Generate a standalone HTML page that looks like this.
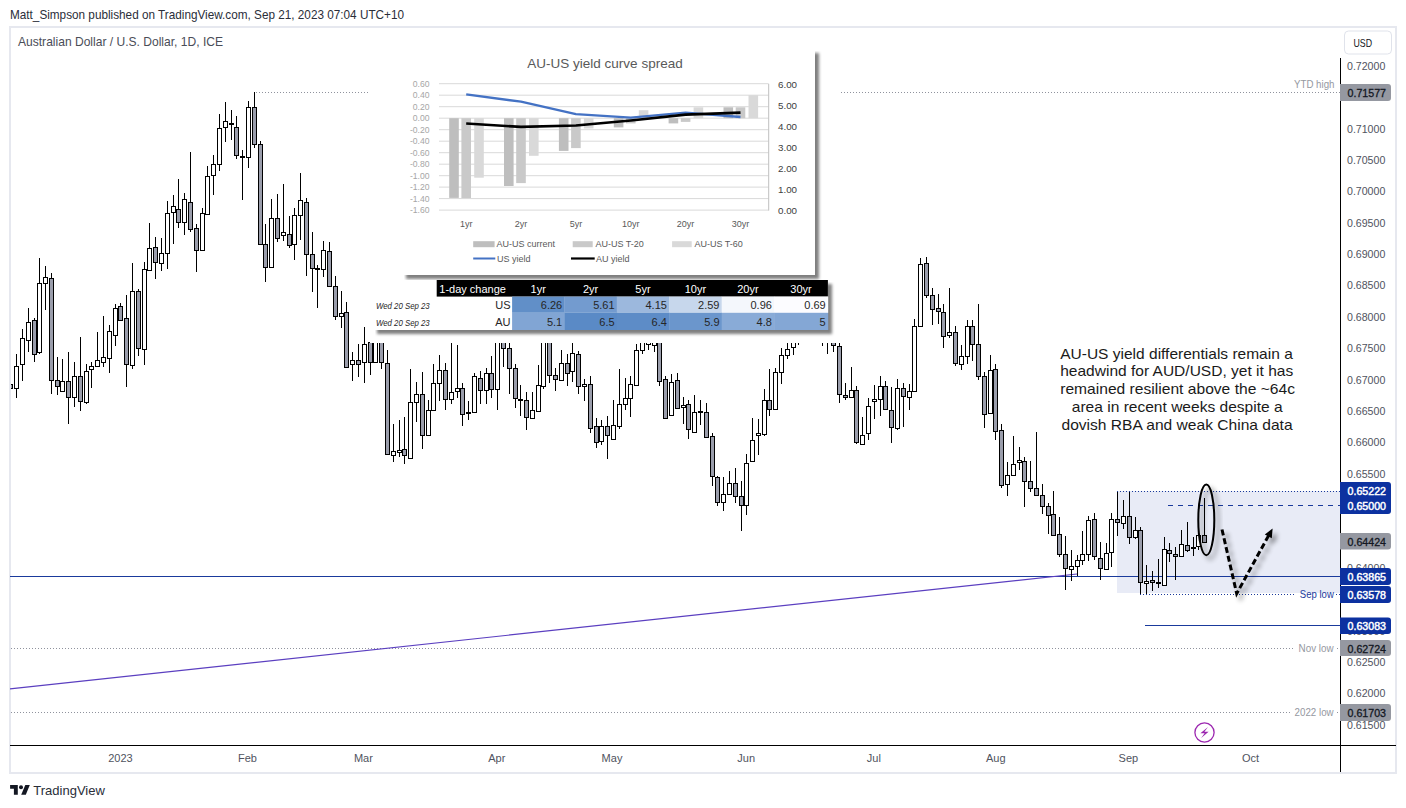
<!DOCTYPE html>
<html><head><meta charset="utf-8"><title>AUDUSD chart</title>
<style>
html,body{margin:0;padding:0;background:#fff;width:1406px;height:808px;overflow:hidden;}
svg{position:absolute;left:0;top:0;display:block;}
text{font-family:"Liberation Sans", sans-serif;}
</style></head><body>
<svg width="1406" height="808" viewBox="0 0 1406 808">
<defs>
<filter id="blur" x="-10%" y="-10%" width="120%" height="120%"><feGaussianBlur stdDeviation="1.8"/></filter>
<filter id="sh" x="-10%" y="-10%" width="130%" height="130%"><feGaussianBlur in="SourceAlpha" stdDeviation="1.9"/><feOffset dx="4" dy="3.5"/><feComponentTransfer><feFuncA type="linear" slope="0.62"/></feComponentTransfer><feMerge><feMergeNode/><feMergeNode in="SourceGraphic"/></feMerge></filter>
<filter id="sh2" x="-50%" y="-20%" width="200%" height="140%"><feGaussianBlur in="SourceAlpha" stdDeviation="2.6"/><feOffset dx="4" dy="4"/><feComponentTransfer><feFuncA type="linear" slope="0.45"/></feComponentTransfer><feMerge><feMergeNode/><feMergeNode in="SourceGraphic"/></feMerge></filter>
</defs>
<rect x="0" y="0" width="1406" height="808" fill="#fff"/>

<text x="10" y="18.8" font-size="12.2" fill="#2a2e39" textLength="394" lengthAdjust="spacingAndGlyphs">Matt_Simpson published on TradingView.com, Sep 21, 2023 07:04 UTC+10</text>
<rect x="10" y="27" width="1386" height="746" fill="none" stroke="#e6e8ef" stroke-width="2"/>
<text x="18" y="46" font-size="12.2" fill="#4a4d57" textLength="205" lengthAdjust="spacingAndGlyphs">Australian Dollar / U.S. Dollar, 1D, ICE</text>
<rect x="1117" y="491" width="223" height="102" fill="#e8ebf6"/>
<g stroke="#8f929d" stroke-width="1" stroke-dasharray="1 2" shape-rendering="crispEdges">
<line x1="256" y1="92.5" x2="1340" y2="92.5"/>
<line x1="11" y1="648.5" x2="1295" y2="648.5"/>
<line x1="1337" y1="648.5" x2="1340" y2="648.5"/>
<line x1="11" y1="712.5" x2="1290" y2="712.5"/>
<line x1="1337" y1="712.5" x2="1340" y2="712.5"/>
</g>
<g stroke="#1a3a9c" stroke-width="1" shape-rendering="crispEdges">
<line x1="10" y1="576.5" x2="1340" y2="576.5"/>
<line x1="1145" y1="625.5" x2="1340" y2="625.5"/>
</g>
<line x1="10" y1="688.8" x2="1077" y2="574" stroke="#5b3fc0" stroke-width="1.2"/>
<clipPath id="pane"><rect x="11" y="28" width="1329" height="717"/></clipPath>
<g shape-rendering="crispEdges" clip-path="url(#pane)">
<rect x="10" y="352" width="1" height="40" fill="#000"/>
<rect x="8" y="384" width="5" height="5" fill="#000"/>
<rect x="9" y="385" width="3" height="3" fill="#9a9dab"/>
<rect x="16" y="354" width="1" height="44" fill="#000"/>
<rect x="14" y="366" width="5" height="23" fill="#000"/>
<rect x="15" y="367" width="3" height="21" fill="#fff"/>
<rect x="22" y="329" width="1" height="52" fill="#000"/>
<rect x="20" y="338" width="5" height="27" fill="#000"/>
<rect x="21" y="339" width="3" height="25" fill="#fff"/>
<rect x="28" y="308" width="1" height="44" fill="#000"/>
<rect x="26" y="322" width="5" height="19" fill="#000"/>
<rect x="27" y="323" width="3" height="17" fill="#fff"/>
<rect x="34" y="318" width="1" height="44" fill="#000"/>
<rect x="32" y="320" width="5" height="35" fill="#000"/>
<rect x="33" y="321" width="3" height="33" fill="#9a9dab"/>
<rect x="39" y="258" width="1" height="96" fill="#000"/>
<rect x="37" y="283" width="5" height="70" fill="#000"/>
<rect x="38" y="284" width="3" height="68" fill="#fff"/>
<rect x="45" y="266" width="1" height="44" fill="#000"/>
<rect x="43" y="277" width="5" height="7" fill="#000"/>
<rect x="44" y="278" width="3" height="5" fill="#fff"/>
<rect x="51" y="273" width="1" height="121" fill="#000"/>
<rect x="49" y="278" width="5" height="103" fill="#000"/>
<rect x="50" y="279" width="3" height="101" fill="#9a9dab"/>
<rect x="57" y="357" width="1" height="38" fill="#000"/>
<rect x="55" y="380" width="5" height="7" fill="#000"/>
<rect x="56" y="381" width="3" height="5" fill="#9a9dab"/>
<rect x="62" y="359" width="1" height="32" fill="#000"/>
<rect x="60" y="381" width="5" height="11" fill="#000"/>
<rect x="61" y="382" width="3" height="9" fill="#fff"/>
<rect x="68" y="352" width="1" height="72" fill="#000"/>
<rect x="66" y="381" width="5" height="17" fill="#000"/>
<rect x="67" y="382" width="3" height="15" fill="#9a9dab"/>
<rect x="74" y="362" width="1" height="45" fill="#000"/>
<rect x="72" y="376" width="5" height="22" fill="#000"/>
<rect x="73" y="377" width="3" height="20" fill="#fff"/>
<rect x="80" y="337" width="1" height="74" fill="#000"/>
<rect x="78" y="376" width="5" height="26" fill="#000"/>
<rect x="79" y="377" width="3" height="24" fill="#9a9dab"/>
<rect x="86" y="364" width="1" height="40" fill="#000"/>
<rect x="84" y="371" width="5" height="32" fill="#000"/>
<rect x="85" y="372" width="3" height="30" fill="#fff"/>
<rect x="91" y="362" width="1" height="26" fill="#000"/>
<rect x="89" y="366" width="5" height="4" fill="#000"/>
<rect x="90" y="367" width="3" height="2" fill="#fff"/>
<rect x="97" y="332" width="1" height="35" fill="#000"/>
<rect x="95" y="360" width="5" height="7" fill="#000"/>
<rect x="96" y="361" width="3" height="5" fill="#fff"/>
<rect x="103" y="316" width="1" height="51" fill="#000"/>
<rect x="101" y="357" width="5" height="6" fill="#000"/>
<rect x="102" y="358" width="3" height="4" fill="#fff"/>
<rect x="109" y="325" width="1" height="48" fill="#000"/>
<rect x="107" y="331" width="5" height="28" fill="#000"/>
<rect x="108" y="332" width="3" height="26" fill="#fff"/>
<rect x="115" y="304" width="1" height="42" fill="#000"/>
<rect x="113" y="308" width="5" height="28" fill="#000"/>
<rect x="114" y="309" width="3" height="26" fill="#fff"/>
<rect x="120" y="303" width="1" height="18" fill="#000"/>
<rect x="118" y="306" width="5" height="15" fill="#000"/>
<rect x="119" y="307" width="3" height="13" fill="#9a9dab"/>
<rect x="126" y="295" width="1" height="92" fill="#000"/>
<rect x="124" y="318" width="5" height="47" fill="#000"/>
<rect x="125" y="319" width="3" height="45" fill="#9a9dab"/>
<rect x="132" y="263" width="1" height="106" fill="#000"/>
<rect x="130" y="291" width="5" height="75" fill="#000"/>
<rect x="131" y="292" width="3" height="73" fill="#fff"/>
<rect x="138" y="289" width="1" height="67" fill="#000"/>
<rect x="136" y="291" width="5" height="58" fill="#000"/>
<rect x="137" y="292" width="3" height="56" fill="#9a9dab"/>
<rect x="144" y="262" width="1" height="103" fill="#000"/>
<rect x="142" y="269" width="5" height="81" fill="#000"/>
<rect x="143" y="270" width="3" height="79" fill="#fff"/>
<rect x="149" y="223" width="1" height="47" fill="#000"/>
<rect x="147" y="248" width="5" height="23" fill="#000"/>
<rect x="148" y="249" width="3" height="21" fill="#fff"/>
<rect x="155" y="237" width="1" height="42" fill="#000"/>
<rect x="153" y="247" width="5" height="16" fill="#000"/>
<rect x="154" y="248" width="3" height="14" fill="#9a9dab"/>
<rect x="161" y="238" width="1" height="33" fill="#000"/>
<rect x="159" y="253" width="5" height="11" fill="#000"/>
<rect x="160" y="254" width="3" height="9" fill="#fff"/>
<rect x="167" y="201" width="1" height="68" fill="#000"/>
<rect x="165" y="213" width="5" height="41" fill="#000"/>
<rect x="166" y="214" width="3" height="39" fill="#fff"/>
<rect x="173" y="195" width="1" height="49" fill="#000"/>
<rect x="171" y="206" width="5" height="7" fill="#000"/>
<rect x="172" y="207" width="3" height="5" fill="#fff"/>
<rect x="178" y="179" width="1" height="49" fill="#000"/>
<rect x="176" y="209" width="5" height="14" fill="#000"/>
<rect x="177" y="210" width="3" height="12" fill="#9a9dab"/>
<rect x="184" y="193" width="1" height="42" fill="#000"/>
<rect x="182" y="199" width="5" height="24" fill="#000"/>
<rect x="183" y="200" width="3" height="22" fill="#fff"/>
<rect x="190" y="152" width="1" height="80" fill="#000"/>
<rect x="188" y="202" width="5" height="28" fill="#000"/>
<rect x="189" y="203" width="3" height="26" fill="#9a9dab"/>
<rect x="196" y="224" width="1" height="48" fill="#000"/>
<rect x="194" y="228" width="5" height="23" fill="#000"/>
<rect x="195" y="229" width="3" height="21" fill="#9a9dab"/>
<rect x="202" y="208" width="1" height="42" fill="#000"/>
<rect x="200" y="213" width="5" height="38" fill="#000"/>
<rect x="201" y="214" width="3" height="36" fill="#fff"/>
<rect x="207" y="166" width="1" height="48" fill="#000"/>
<rect x="205" y="176" width="5" height="39" fill="#000"/>
<rect x="206" y="177" width="3" height="37" fill="#fff"/>
<rect x="213" y="155" width="1" height="40" fill="#000"/>
<rect x="211" y="164" width="5" height="12" fill="#000"/>
<rect x="212" y="165" width="3" height="10" fill="#fff"/>
<rect x="219" y="114" width="1" height="57" fill="#000"/>
<rect x="217" y="128" width="5" height="37" fill="#000"/>
<rect x="218" y="129" width="3" height="35" fill="#fff"/>
<rect x="225" y="102" width="1" height="40" fill="#000"/>
<rect x="223" y="121" width="5" height="7" fill="#000"/>
<rect x="224" y="122" width="3" height="5" fill="#fff"/>
<rect x="231" y="110" width="1" height="30" fill="#000"/>
<rect x="229" y="123" width="5" height="2" fill="#000"/>
<rect x="236" y="116" width="1" height="43" fill="#000"/>
<rect x="234" y="127" width="5" height="29" fill="#000"/>
<rect x="235" y="128" width="3" height="27" fill="#9a9dab"/>
<rect x="242" y="150" width="1" height="50" fill="#000"/>
<rect x="240" y="156" width="5" height="2" fill="#000"/>
<rect x="248" y="101" width="1" height="67" fill="#000"/>
<rect x="246" y="107" width="5" height="51" fill="#000"/>
<rect x="247" y="108" width="3" height="49" fill="#fff"/>
<rect x="254" y="92" width="1" height="56" fill="#000"/>
<rect x="252" y="107" width="5" height="38" fill="#000"/>
<rect x="253" y="108" width="3" height="36" fill="#9a9dab"/>
<rect x="260" y="141" width="1" height="103" fill="#000"/>
<rect x="258" y="144" width="5" height="101" fill="#000"/>
<rect x="259" y="145" width="3" height="99" fill="#9a9dab"/>
<rect x="265" y="224" width="1" height="58" fill="#000"/>
<rect x="263" y="244" width="5" height="24" fill="#000"/>
<rect x="264" y="245" width="3" height="22" fill="#9a9dab"/>
<rect x="271" y="199" width="1" height="68" fill="#000"/>
<rect x="269" y="218" width="5" height="50" fill="#000"/>
<rect x="270" y="219" width="3" height="48" fill="#fff"/>
<rect x="277" y="194" width="1" height="48" fill="#000"/>
<rect x="275" y="218" width="5" height="21" fill="#000"/>
<rect x="276" y="219" width="3" height="19" fill="#9a9dab"/>
<rect x="283" y="184" width="1" height="57" fill="#000"/>
<rect x="281" y="232" width="5" height="4" fill="#000"/>
<rect x="282" y="233" width="3" height="2" fill="#fff"/>
<rect x="289" y="216" width="1" height="32" fill="#000"/>
<rect x="287" y="234" width="5" height="12" fill="#000"/>
<rect x="288" y="235" width="3" height="10" fill="#9a9dab"/>
<rect x="294" y="208" width="1" height="52" fill="#000"/>
<rect x="292" y="215" width="5" height="30" fill="#000"/>
<rect x="293" y="216" width="3" height="28" fill="#fff"/>
<rect x="300" y="173" width="1" height="67" fill="#000"/>
<rect x="298" y="200" width="5" height="16" fill="#000"/>
<rect x="299" y="201" width="3" height="14" fill="#fff"/>
<rect x="306" y="198" width="1" height="78" fill="#000"/>
<rect x="304" y="202" width="5" height="53" fill="#000"/>
<rect x="305" y="203" width="3" height="51" fill="#9a9dab"/>
<rect x="312" y="232" width="1" height="60" fill="#000"/>
<rect x="310" y="254" width="5" height="15" fill="#000"/>
<rect x="311" y="255" width="3" height="13" fill="#9a9dab"/>
<rect x="317" y="265" width="1" height="43" fill="#000"/>
<rect x="315" y="268" width="5" height="2" fill="#000"/>
<rect x="323" y="241" width="1" height="36" fill="#000"/>
<rect x="321" y="250" width="5" height="20" fill="#000"/>
<rect x="322" y="251" width="3" height="18" fill="#fff"/>
<rect x="329" y="242" width="1" height="44" fill="#000"/>
<rect x="327" y="251" width="5" height="36" fill="#000"/>
<rect x="328" y="252" width="3" height="34" fill="#9a9dab"/>
<rect x="335" y="276" width="1" height="44" fill="#000"/>
<rect x="333" y="286" width="5" height="31" fill="#000"/>
<rect x="334" y="287" width="3" height="29" fill="#9a9dab"/>
<rect x="341" y="291" width="1" height="37" fill="#000"/>
<rect x="339" y="313" width="5" height="4" fill="#000"/>
<rect x="340" y="314" width="3" height="2" fill="#fff"/>
<rect x="346" y="302" width="1" height="66" fill="#000"/>
<rect x="344" y="312" width="5" height="56" fill="#000"/>
<rect x="345" y="313" width="3" height="54" fill="#9a9dab"/>
<rect x="352" y="352" width="1" height="29" fill="#000"/>
<rect x="350" y="360" width="5" height="5" fill="#000"/>
<rect x="351" y="361" width="3" height="3" fill="#fff"/>
<rect x="358" y="344" width="1" height="33" fill="#000"/>
<rect x="356" y="360" width="5" height="5" fill="#000"/>
<rect x="357" y="361" width="3" height="3" fill="#9a9dab"/>
<rect x="364" y="327" width="1" height="56" fill="#000"/>
<rect x="362" y="344" width="5" height="19" fill="#000"/>
<rect x="363" y="345" width="3" height="17" fill="#fff"/>
<rect x="370" y="338" width="1" height="37" fill="#000"/>
<rect x="368" y="342" width="5" height="21" fill="#000"/>
<rect x="369" y="343" width="3" height="19" fill="#9a9dab"/>
<rect x="375" y="330" width="1" height="33" fill="#000"/>
<rect x="373" y="335" width="5" height="28" fill="#000"/>
<rect x="374" y="336" width="3" height="26" fill="#fff"/>
<rect x="381" y="330" width="1" height="39" fill="#000"/>
<rect x="379" y="335" width="5" height="28" fill="#000"/>
<rect x="380" y="336" width="3" height="26" fill="#9a9dab"/>
<rect x="387" y="350" width="1" height="105" fill="#000"/>
<rect x="385" y="363" width="5" height="92" fill="#000"/>
<rect x="386" y="364" width="3" height="90" fill="#9a9dab"/>
<rect x="393" y="424" width="1" height="38" fill="#000"/>
<rect x="391" y="451" width="5" height="5" fill="#000"/>
<rect x="392" y="452" width="3" height="3" fill="#fff"/>
<rect x="399" y="420" width="1" height="37" fill="#000"/>
<rect x="397" y="450" width="5" height="3" fill="#000"/>
<rect x="398" y="451" width="3" height="1" fill="#fff"/>
<rect x="404" y="417" width="1" height="47" fill="#000"/>
<rect x="402" y="449" width="5" height="7" fill="#000"/>
<rect x="403" y="450" width="3" height="5" fill="#9a9dab"/>
<rect x="410" y="369" width="1" height="89" fill="#000"/>
<rect x="408" y="402" width="5" height="57" fill="#000"/>
<rect x="409" y="403" width="3" height="55" fill="#fff"/>
<rect x="416" y="382" width="1" height="40" fill="#000"/>
<rect x="414" y="394" width="5" height="9" fill="#000"/>
<rect x="415" y="395" width="3" height="7" fill="#fff"/>
<rect x="422" y="372" width="1" height="77" fill="#000"/>
<rect x="420" y="394" width="5" height="42" fill="#000"/>
<rect x="421" y="395" width="3" height="40" fill="#9a9dab"/>
<rect x="428" y="400" width="1" height="35" fill="#000"/>
<rect x="426" y="410" width="5" height="26" fill="#000"/>
<rect x="427" y="411" width="3" height="24" fill="#fff"/>
<rect x="433" y="364" width="1" height="46" fill="#000"/>
<rect x="431" y="383" width="5" height="28" fill="#000"/>
<rect x="432" y="384" width="3" height="26" fill="#fff"/>
<rect x="439" y="355" width="1" height="46" fill="#000"/>
<rect x="437" y="370" width="5" height="14" fill="#000"/>
<rect x="438" y="371" width="3" height="12" fill="#fff"/>
<rect x="445" y="363" width="1" height="47" fill="#000"/>
<rect x="443" y="370" width="5" height="30" fill="#000"/>
<rect x="444" y="371" width="3" height="28" fill="#9a9dab"/>
<rect x="451" y="335" width="1" height="69" fill="#000"/>
<rect x="449" y="392" width="5" height="8" fill="#000"/>
<rect x="450" y="393" width="3" height="6" fill="#fff"/>
<rect x="457" y="345" width="1" height="53" fill="#000"/>
<rect x="455" y="388" width="5" height="4" fill="#000"/>
<rect x="456" y="389" width="3" height="2" fill="#fff"/>
<rect x="462" y="383" width="1" height="43" fill="#000"/>
<rect x="460" y="388" width="5" height="27" fill="#000"/>
<rect x="461" y="389" width="3" height="25" fill="#9a9dab"/>
<rect x="468" y="401" width="1" height="19" fill="#000"/>
<rect x="466" y="412" width="5" height="2" fill="#000"/>
<rect x="474" y="373" width="1" height="39" fill="#000"/>
<rect x="472" y="376" width="5" height="37" fill="#000"/>
<rect x="473" y="377" width="3" height="35" fill="#fff"/>
<rect x="480" y="371" width="1" height="33" fill="#000"/>
<rect x="478" y="378" width="5" height="13" fill="#000"/>
<rect x="479" y="379" width="3" height="11" fill="#9a9dab"/>
<rect x="486" y="368" width="1" height="36" fill="#000"/>
<rect x="484" y="373" width="5" height="18" fill="#000"/>
<rect x="485" y="374" width="3" height="16" fill="#fff"/>
<rect x="491" y="356" width="1" height="42" fill="#000"/>
<rect x="489" y="373" width="5" height="17" fill="#000"/>
<rect x="490" y="374" width="3" height="15" fill="#9a9dab"/>
<rect x="497" y="330" width="1" height="80" fill="#000"/>
<rect x="495" y="335" width="5" height="55" fill="#000"/>
<rect x="496" y="336" width="3" height="53" fill="#fff"/>
<rect x="503" y="330" width="1" height="37" fill="#000"/>
<rect x="501" y="335" width="5" height="14" fill="#000"/>
<rect x="502" y="336" width="3" height="12" fill="#9a9dab"/>
<rect x="509" y="335" width="1" height="59" fill="#000"/>
<rect x="507" y="348" width="5" height="21" fill="#000"/>
<rect x="508" y="349" width="3" height="19" fill="#9a9dab"/>
<rect x="515" y="364" width="1" height="44" fill="#000"/>
<rect x="513" y="368" width="5" height="31" fill="#000"/>
<rect x="514" y="369" width="3" height="29" fill="#9a9dab"/>
<rect x="520" y="385" width="1" height="31" fill="#000"/>
<rect x="518" y="399" width="5" height="2" fill="#000"/>
<rect x="526" y="392" width="1" height="38" fill="#000"/>
<rect x="524" y="400" width="5" height="18" fill="#000"/>
<rect x="525" y="401" width="3" height="16" fill="#9a9dab"/>
<rect x="532" y="392" width="1" height="26" fill="#000"/>
<rect x="530" y="410" width="5" height="9" fill="#000"/>
<rect x="531" y="411" width="3" height="7" fill="#fff"/>
<rect x="538" y="365" width="1" height="46" fill="#000"/>
<rect x="536" y="385" width="5" height="27" fill="#000"/>
<rect x="537" y="386" width="3" height="25" fill="#fff"/>
<rect x="543" y="330" width="1" height="59" fill="#000"/>
<rect x="541" y="335" width="5" height="52" fill="#000"/>
<rect x="542" y="336" width="3" height="50" fill="#fff"/>
<rect x="549" y="330" width="1" height="53" fill="#000"/>
<rect x="547" y="335" width="5" height="41" fill="#000"/>
<rect x="548" y="336" width="3" height="39" fill="#9a9dab"/>
<rect x="555" y="368" width="1" height="23" fill="#000"/>
<rect x="553" y="375" width="5" height="5" fill="#000"/>
<rect x="554" y="376" width="3" height="3" fill="#9a9dab"/>
<rect x="561" y="350" width="1" height="30" fill="#000"/>
<rect x="559" y="363" width="5" height="18" fill="#000"/>
<rect x="560" y="364" width="3" height="16" fill="#fff"/>
<rect x="567" y="354" width="1" height="32" fill="#000"/>
<rect x="565" y="363" width="5" height="11" fill="#000"/>
<rect x="566" y="364" width="3" height="9" fill="#9a9dab"/>
<rect x="572" y="335" width="1" height="47" fill="#000"/>
<rect x="570" y="353" width="5" height="19" fill="#000"/>
<rect x="571" y="354" width="3" height="17" fill="#fff"/>
<rect x="578" y="351" width="1" height="43" fill="#000"/>
<rect x="576" y="354" width="5" height="33" fill="#000"/>
<rect x="577" y="355" width="3" height="31" fill="#9a9dab"/>
<rect x="584" y="379" width="1" height="22" fill="#000"/>
<rect x="582" y="384" width="5" height="3" fill="#000"/>
<rect x="583" y="385" width="3" height="1" fill="#fff"/>
<rect x="590" y="376" width="1" height="57" fill="#000"/>
<rect x="588" y="384" width="5" height="45" fill="#000"/>
<rect x="589" y="385" width="3" height="43" fill="#9a9dab"/>
<rect x="596" y="418" width="1" height="30" fill="#000"/>
<rect x="594" y="426" width="5" height="17" fill="#000"/>
<rect x="595" y="427" width="3" height="15" fill="#9a9dab"/>
<rect x="601" y="420" width="1" height="25" fill="#000"/>
<rect x="599" y="426" width="5" height="16" fill="#000"/>
<rect x="600" y="427" width="3" height="14" fill="#fff"/>
<rect x="607" y="416" width="1" height="43" fill="#000"/>
<rect x="605" y="426" width="5" height="10" fill="#000"/>
<rect x="606" y="427" width="3" height="8" fill="#9a9dab"/>
<rect x="613" y="400" width="1" height="39" fill="#000"/>
<rect x="611" y="425" width="5" height="15" fill="#000"/>
<rect x="612" y="426" width="3" height="13" fill="#fff"/>
<rect x="619" y="369" width="1" height="60" fill="#000"/>
<rect x="617" y="404" width="5" height="23" fill="#000"/>
<rect x="618" y="405" width="3" height="21" fill="#fff"/>
<rect x="625" y="378" width="1" height="32" fill="#000"/>
<rect x="623" y="398" width="5" height="7" fill="#000"/>
<rect x="624" y="399" width="3" height="5" fill="#fff"/>
<rect x="630" y="376" width="1" height="41" fill="#000"/>
<rect x="628" y="384" width="5" height="15" fill="#000"/>
<rect x="629" y="385" width="3" height="13" fill="#fff"/>
<rect x="636" y="344" width="1" height="41" fill="#000"/>
<rect x="634" y="350" width="5" height="36" fill="#000"/>
<rect x="635" y="351" width="3" height="34" fill="#fff"/>
<rect x="642" y="330" width="1" height="24" fill="#000"/>
<rect x="640" y="335" width="5" height="16" fill="#000"/>
<rect x="641" y="336" width="3" height="14" fill="#fff"/>
<rect x="648" y="320" width="1" height="30" fill="#000"/>
<rect x="646" y="330" width="5" height="15" fill="#000"/>
<rect x="647" y="331" width="3" height="13" fill="#fff"/>
<rect x="654" y="320" width="1" height="32" fill="#000"/>
<rect x="652" y="330" width="5" height="16" fill="#000"/>
<rect x="653" y="331" width="3" height="14" fill="#fff"/>
<rect x="659" y="330" width="1" height="56" fill="#000"/>
<rect x="657" y="335" width="5" height="47" fill="#000"/>
<rect x="658" y="336" width="3" height="45" fill="#9a9dab"/>
<rect x="665" y="376" width="1" height="43" fill="#000"/>
<rect x="663" y="379" width="5" height="40" fill="#000"/>
<rect x="664" y="380" width="3" height="38" fill="#9a9dab"/>
<rect x="671" y="374" width="1" height="41" fill="#000"/>
<rect x="669" y="382" width="5" height="34" fill="#000"/>
<rect x="670" y="383" width="3" height="32" fill="#fff"/>
<rect x="677" y="373" width="1" height="36" fill="#000"/>
<rect x="675" y="380" width="5" height="29" fill="#000"/>
<rect x="676" y="381" width="3" height="27" fill="#9a9dab"/>
<rect x="683" y="397" width="1" height="27" fill="#000"/>
<rect x="681" y="405" width="5" height="3" fill="#000"/>
<rect x="682" y="406" width="3" height="1" fill="#fff"/>
<rect x="688" y="400" width="1" height="39" fill="#000"/>
<rect x="686" y="404" width="5" height="26" fill="#000"/>
<rect x="687" y="405" width="3" height="24" fill="#9a9dab"/>
<rect x="694" y="395" width="1" height="37" fill="#000"/>
<rect x="692" y="412" width="5" height="21" fill="#000"/>
<rect x="693" y="413" width="3" height="19" fill="#fff"/>
<rect x="700" y="400" width="1" height="25" fill="#000"/>
<rect x="698" y="411" width="5" height="2" fill="#000"/>
<rect x="706" y="403" width="1" height="35" fill="#000"/>
<rect x="704" y="412" width="5" height="26" fill="#000"/>
<rect x="705" y="413" width="3" height="24" fill="#9a9dab"/>
<rect x="712" y="433" width="1" height="53" fill="#000"/>
<rect x="710" y="436" width="5" height="41" fill="#000"/>
<rect x="711" y="437" width="3" height="39" fill="#9a9dab"/>
<rect x="717" y="476" width="1" height="30" fill="#000"/>
<rect x="715" y="477" width="5" height="26" fill="#000"/>
<rect x="716" y="478" width="3" height="24" fill="#9a9dab"/>
<rect x="723" y="477" width="1" height="34" fill="#000"/>
<rect x="721" y="494" width="5" height="9" fill="#000"/>
<rect x="722" y="495" width="3" height="7" fill="#fff"/>
<rect x="729" y="471" width="1" height="23" fill="#000"/>
<rect x="727" y="483" width="5" height="12" fill="#000"/>
<rect x="728" y="484" width="3" height="10" fill="#fff"/>
<rect x="735" y="468" width="1" height="35" fill="#000"/>
<rect x="733" y="483" width="5" height="14" fill="#000"/>
<rect x="734" y="484" width="3" height="12" fill="#9a9dab"/>
<rect x="741" y="481" width="1" height="50" fill="#000"/>
<rect x="739" y="496" width="5" height="10" fill="#000"/>
<rect x="740" y="497" width="3" height="8" fill="#9a9dab"/>
<rect x="746" y="454" width="1" height="61" fill="#000"/>
<rect x="744" y="463" width="5" height="43" fill="#000"/>
<rect x="745" y="464" width="3" height="41" fill="#fff"/>
<rect x="752" y="418" width="1" height="43" fill="#000"/>
<rect x="750" y="440" width="5" height="22" fill="#000"/>
<rect x="751" y="441" width="3" height="20" fill="#fff"/>
<rect x="758" y="419" width="1" height="36" fill="#000"/>
<rect x="756" y="433" width="5" height="3" fill="#000"/>
<rect x="757" y="434" width="3" height="1" fill="#fff"/>
<rect x="764" y="389" width="1" height="47" fill="#000"/>
<rect x="762" y="400" width="5" height="35" fill="#000"/>
<rect x="763" y="401" width="3" height="33" fill="#fff"/>
<rect x="769" y="369" width="1" height="47" fill="#000"/>
<rect x="767" y="400" width="5" height="10" fill="#000"/>
<rect x="768" y="401" width="3" height="8" fill="#9a9dab"/>
<rect x="775" y="368" width="1" height="41" fill="#000"/>
<rect x="773" y="372" width="5" height="38" fill="#000"/>
<rect x="774" y="373" width="3" height="36" fill="#fff"/>
<rect x="781" y="348" width="1" height="36" fill="#000"/>
<rect x="779" y="355" width="5" height="18" fill="#000"/>
<rect x="780" y="356" width="3" height="16" fill="#fff"/>
<rect x="787" y="335" width="1" height="24" fill="#000"/>
<rect x="785" y="349" width="5" height="7" fill="#000"/>
<rect x="786" y="350" width="3" height="5" fill="#fff"/>
<rect x="793" y="330" width="1" height="25" fill="#000"/>
<rect x="791" y="335" width="5" height="13" fill="#000"/>
<rect x="792" y="336" width="3" height="11" fill="#fff"/>
<rect x="798" y="320" width="1" height="25" fill="#000"/>
<rect x="796" y="330" width="5" height="7" fill="#000"/>
<rect x="797" y="331" width="3" height="5" fill="#fff"/>
<rect x="804" y="310" width="1" height="25" fill="#000"/>
<rect x="802" y="320" width="5" height="11" fill="#000"/>
<rect x="803" y="321" width="3" height="9" fill="#fff"/>
<rect x="810" y="305" width="1" height="30" fill="#000"/>
<rect x="808" y="315" width="5" height="14" fill="#000"/>
<rect x="809" y="316" width="3" height="12" fill="#9a9dab"/>
<rect x="816" y="310" width="1" height="28" fill="#000"/>
<rect x="814" y="318" width="5" height="13" fill="#000"/>
<rect x="815" y="319" width="3" height="11" fill="#fff"/>
<rect x="822" y="320" width="1" height="26" fill="#000"/>
<rect x="820" y="328" width="5" height="9" fill="#000"/>
<rect x="821" y="329" width="3" height="7" fill="#9a9dab"/>
<rect x="827" y="320" width="1" height="34" fill="#000"/>
<rect x="825" y="330" width="5" height="9" fill="#000"/>
<rect x="826" y="331" width="3" height="7" fill="#fff"/>
<rect x="833" y="325" width="1" height="27" fill="#000"/>
<rect x="831" y="335" width="5" height="11" fill="#000"/>
<rect x="832" y="336" width="3" height="9" fill="#9a9dab"/>
<rect x="839" y="335" width="1" height="68" fill="#000"/>
<rect x="837" y="346" width="5" height="49" fill="#000"/>
<rect x="838" y="347" width="3" height="47" fill="#9a9dab"/>
<rect x="845" y="383" width="1" height="17" fill="#000"/>
<rect x="843" y="395" width="5" height="3" fill="#000"/>
<rect x="844" y="396" width="3" height="1" fill="#9a9dab"/>
<rect x="851" y="367" width="1" height="30" fill="#000"/>
<rect x="849" y="390" width="5" height="8" fill="#000"/>
<rect x="850" y="391" width="3" height="6" fill="#fff"/>
<rect x="856" y="386" width="1" height="58" fill="#000"/>
<rect x="854" y="390" width="5" height="53" fill="#000"/>
<rect x="855" y="391" width="3" height="51" fill="#9a9dab"/>
<rect x="862" y="417" width="1" height="27" fill="#000"/>
<rect x="860" y="435" width="5" height="10" fill="#000"/>
<rect x="861" y="436" width="3" height="8" fill="#fff"/>
<rect x="868" y="398" width="1" height="42" fill="#000"/>
<rect x="866" y="406" width="5" height="28" fill="#000"/>
<rect x="867" y="407" width="3" height="26" fill="#fff"/>
<rect x="874" y="385" width="1" height="34" fill="#000"/>
<rect x="872" y="399" width="5" height="3" fill="#000"/>
<rect x="873" y="400" width="3" height="1" fill="#fff"/>
<rect x="880" y="376" width="1" height="40" fill="#000"/>
<rect x="878" y="386" width="5" height="14" fill="#000"/>
<rect x="879" y="387" width="3" height="12" fill="#fff"/>
<rect x="885" y="381" width="1" height="29" fill="#000"/>
<rect x="883" y="386" width="5" height="24" fill="#000"/>
<rect x="884" y="387" width="3" height="22" fill="#9a9dab"/>
<rect x="891" y="387" width="1" height="56" fill="#000"/>
<rect x="889" y="410" width="5" height="18" fill="#000"/>
<rect x="890" y="411" width="3" height="16" fill="#9a9dab"/>
<rect x="897" y="379" width="1" height="51" fill="#000"/>
<rect x="895" y="388" width="5" height="41" fill="#000"/>
<rect x="896" y="389" width="3" height="39" fill="#fff"/>
<rect x="903" y="383" width="1" height="44" fill="#000"/>
<rect x="901" y="388" width="5" height="9" fill="#000"/>
<rect x="902" y="389" width="3" height="7" fill="#9a9dab"/>
<rect x="909" y="384" width="1" height="26" fill="#000"/>
<rect x="907" y="391" width="5" height="7" fill="#000"/>
<rect x="908" y="392" width="3" height="5" fill="#fff"/>
<rect x="914" y="319" width="1" height="72" fill="#000"/>
<rect x="912" y="326" width="5" height="66" fill="#000"/>
<rect x="913" y="327" width="3" height="64" fill="#fff"/>
<rect x="920" y="258" width="1" height="68" fill="#000"/>
<rect x="918" y="264" width="5" height="63" fill="#000"/>
<rect x="919" y="265" width="3" height="61" fill="#fff"/>
<rect x="926" y="257" width="1" height="41" fill="#000"/>
<rect x="924" y="263" width="5" height="33" fill="#000"/>
<rect x="925" y="264" width="3" height="31" fill="#9a9dab"/>
<rect x="932" y="288" width="1" height="37" fill="#000"/>
<rect x="930" y="295" width="5" height="15" fill="#000"/>
<rect x="931" y="296" width="3" height="13" fill="#9a9dab"/>
<rect x="938" y="294" width="1" height="30" fill="#000"/>
<rect x="936" y="308" width="5" height="4" fill="#000"/>
<rect x="937" y="309" width="3" height="2" fill="#9a9dab"/>
<rect x="943" y="304" width="1" height="44" fill="#000"/>
<rect x="941" y="312" width="5" height="25" fill="#000"/>
<rect x="942" y="313" width="3" height="23" fill="#9a9dab"/>
<rect x="949" y="288" width="1" height="50" fill="#000"/>
<rect x="947" y="332" width="5" height="4" fill="#000"/>
<rect x="948" y="333" width="3" height="2" fill="#fff"/>
<rect x="955" y="326" width="1" height="40" fill="#000"/>
<rect x="953" y="332" width="5" height="32" fill="#000"/>
<rect x="954" y="333" width="3" height="30" fill="#9a9dab"/>
<rect x="961" y="345" width="1" height="25" fill="#000"/>
<rect x="959" y="356" width="5" height="9" fill="#000"/>
<rect x="960" y="357" width="3" height="7" fill="#fff"/>
<rect x="967" y="320" width="1" height="44" fill="#000"/>
<rect x="965" y="326" width="5" height="31" fill="#000"/>
<rect x="966" y="327" width="3" height="29" fill="#fff"/>
<rect x="972" y="320" width="1" height="41" fill="#000"/>
<rect x="970" y="326" width="5" height="19" fill="#000"/>
<rect x="971" y="327" width="3" height="17" fill="#9a9dab"/>
<rect x="978" y="304" width="1" height="76" fill="#000"/>
<rect x="976" y="344" width="5" height="33" fill="#000"/>
<rect x="977" y="345" width="3" height="31" fill="#9a9dab"/>
<rect x="984" y="372" width="1" height="56" fill="#000"/>
<rect x="982" y="376" width="5" height="39" fill="#000"/>
<rect x="983" y="377" width="3" height="37" fill="#9a9dab"/>
<rect x="990" y="355" width="1" height="59" fill="#000"/>
<rect x="988" y="370" width="5" height="44" fill="#000"/>
<rect x="989" y="371" width="3" height="42" fill="#fff"/>
<rect x="995" y="364" width="1" height="76" fill="#000"/>
<rect x="993" y="369" width="5" height="63" fill="#000"/>
<rect x="994" y="370" width="3" height="61" fill="#9a9dab"/>
<rect x="1001" y="424" width="1" height="64" fill="#000"/>
<rect x="999" y="430" width="5" height="56" fill="#000"/>
<rect x="1000" y="431" width="3" height="54" fill="#9a9dab"/>
<rect x="1007" y="462" width="1" height="34" fill="#000"/>
<rect x="1005" y="475" width="5" height="10" fill="#000"/>
<rect x="1006" y="476" width="3" height="8" fill="#fff"/>
<rect x="1013" y="436" width="1" height="39" fill="#000"/>
<rect x="1011" y="464" width="5" height="12" fill="#000"/>
<rect x="1012" y="465" width="3" height="10" fill="#fff"/>
<rect x="1019" y="447" width="1" height="23" fill="#000"/>
<rect x="1017" y="460" width="5" height="3" fill="#000"/>
<rect x="1018" y="461" width="3" height="1" fill="#fff"/>
<rect x="1024" y="457" width="1" height="50" fill="#000"/>
<rect x="1022" y="461" width="5" height="21" fill="#000"/>
<rect x="1023" y="462" width="3" height="19" fill="#9a9dab"/>
<rect x="1030" y="461" width="1" height="31" fill="#000"/>
<rect x="1028" y="481" width="5" height="8" fill="#000"/>
<rect x="1029" y="482" width="3" height="6" fill="#9a9dab"/>
<rect x="1036" y="432" width="1" height="63" fill="#000"/>
<rect x="1034" y="488" width="5" height="8" fill="#000"/>
<rect x="1035" y="489" width="3" height="6" fill="#9a9dab"/>
<rect x="1042" y="484" width="1" height="30" fill="#000"/>
<rect x="1040" y="495" width="5" height="12" fill="#000"/>
<rect x="1041" y="496" width="3" height="10" fill="#9a9dab"/>
<rect x="1048" y="503" width="1" height="31" fill="#000"/>
<rect x="1046" y="506" width="5" height="10" fill="#000"/>
<rect x="1047" y="507" width="3" height="8" fill="#9a9dab"/>
<rect x="1053" y="491" width="1" height="44" fill="#000"/>
<rect x="1051" y="514" width="5" height="22" fill="#000"/>
<rect x="1052" y="515" width="3" height="20" fill="#9a9dab"/>
<rect x="1059" y="517" width="1" height="40" fill="#000"/>
<rect x="1057" y="534" width="5" height="21" fill="#000"/>
<rect x="1058" y="535" width="3" height="19" fill="#9a9dab"/>
<rect x="1065" y="536" width="1" height="54" fill="#000"/>
<rect x="1063" y="554" width="5" height="15" fill="#000"/>
<rect x="1064" y="555" width="3" height="13" fill="#9a9dab"/>
<rect x="1071" y="550" width="1" height="31" fill="#000"/>
<rect x="1069" y="566" width="5" height="4" fill="#000"/>
<rect x="1070" y="567" width="3" height="2" fill="#fff"/>
<rect x="1077" y="555" width="1" height="21" fill="#000"/>
<rect x="1075" y="560" width="5" height="7" fill="#000"/>
<rect x="1076" y="561" width="3" height="5" fill="#fff"/>
<rect x="1082" y="531" width="1" height="34" fill="#000"/>
<rect x="1080" y="554" width="5" height="7" fill="#000"/>
<rect x="1081" y="555" width="3" height="5" fill="#fff"/>
<rect x="1088" y="516" width="1" height="45" fill="#000"/>
<rect x="1086" y="520" width="5" height="35" fill="#000"/>
<rect x="1087" y="521" width="3" height="33" fill="#fff"/>
<rect x="1094" y="513" width="1" height="47" fill="#000"/>
<rect x="1092" y="519" width="5" height="38" fill="#000"/>
<rect x="1093" y="520" width="3" height="36" fill="#9a9dab"/>
<rect x="1100" y="542" width="1" height="38" fill="#000"/>
<rect x="1098" y="558" width="5" height="11" fill="#000"/>
<rect x="1099" y="559" width="3" height="9" fill="#9a9dab"/>
<rect x="1106" y="543" width="1" height="26" fill="#000"/>
<rect x="1104" y="553" width="5" height="17" fill="#000"/>
<rect x="1105" y="554" width="3" height="15" fill="#fff"/>
<rect x="1111" y="513" width="1" height="54" fill="#000"/>
<rect x="1109" y="519" width="5" height="34" fill="#000"/>
<rect x="1110" y="520" width="3" height="32" fill="#fff"/>
<rect x="1117" y="491" width="1" height="45" fill="#000"/>
<rect x="1115" y="519" width="5" height="4" fill="#000"/>
<rect x="1116" y="520" width="3" height="2" fill="#9a9dab"/>
<rect x="1123" y="500" width="1" height="29" fill="#000"/>
<rect x="1121" y="516" width="5" height="8" fill="#000"/>
<rect x="1122" y="517" width="3" height="6" fill="#fff"/>
<rect x="1129" y="491" width="1" height="53" fill="#000"/>
<rect x="1127" y="516" width="5" height="22" fill="#000"/>
<rect x="1128" y="517" width="3" height="20" fill="#9a9dab"/>
<rect x="1135" y="517" width="1" height="22" fill="#000"/>
<rect x="1133" y="530" width="5" height="8" fill="#000"/>
<rect x="1134" y="531" width="3" height="6" fill="#fff"/>
<rect x="1140" y="527" width="1" height="67" fill="#000"/>
<rect x="1138" y="530" width="5" height="53" fill="#000"/>
<rect x="1139" y="531" width="3" height="51" fill="#9a9dab"/>
<rect x="1146" y="565" width="1" height="29" fill="#000"/>
<rect x="1144" y="581" width="5" height="3" fill="#000"/>
<rect x="1145" y="582" width="3" height="1" fill="#fff"/>
<rect x="1152" y="571" width="1" height="20" fill="#000"/>
<rect x="1150" y="580" width="5" height="3" fill="#000"/>
<rect x="1151" y="581" width="3" height="1" fill="#9a9dab"/>
<rect x="1158" y="559" width="1" height="29" fill="#000"/>
<rect x="1156" y="582" width="5" height="2" fill="#000"/>
<rect x="1164" y="537" width="1" height="48" fill="#000"/>
<rect x="1162" y="549" width="5" height="37" fill="#000"/>
<rect x="1163" y="550" width="3" height="35" fill="#fff"/>
<rect x="1169" y="543" width="1" height="19" fill="#000"/>
<rect x="1167" y="550" width="5" height="4" fill="#000"/>
<rect x="1168" y="551" width="3" height="2" fill="#9a9dab"/>
<rect x="1175" y="547" width="1" height="33" fill="#000"/>
<rect x="1173" y="554" width="5" height="3" fill="#000"/>
<rect x="1174" y="555" width="3" height="1" fill="#9a9dab"/>
<rect x="1181" y="530" width="1" height="26" fill="#000"/>
<rect x="1179" y="544" width="5" height="13" fill="#000"/>
<rect x="1180" y="545" width="3" height="11" fill="#fff"/>
<rect x="1187" y="522" width="1" height="30" fill="#000"/>
<rect x="1185" y="545" width="5" height="6" fill="#000"/>
<rect x="1186" y="546" width="3" height="4" fill="#9a9dab"/>
<rect x="1193" y="537" width="1" height="19" fill="#000"/>
<rect x="1191" y="547" width="5" height="2" fill="#000"/>
<rect x="1198" y="535" width="1" height="15" fill="#000"/>
<rect x="1196" y="535" width="5" height="12" fill="#000"/>
<rect x="1197" y="536" width="3" height="10" fill="#fff"/>
<rect x="1204" y="498" width="1" height="45" fill="#000"/>
<rect x="1202" y="535" width="5" height="8" fill="#000"/>
<rect x="1203" y="536" width="3" height="6" fill="#9a9dab"/>
</g>
<rect x="370" y="44" width="471" height="299" fill="#fff"/>
<clipPath id="c40249"><rect x="404" y="51" width="433" height="246"/></clipPath>
<g clip-path="url(#c40249)"><rect x="406" y="53" width="413" height="226" fill="#000" fill-opacity="0.5" filter="url(#blur)"/></g>
<rect x="402" y="49" width="413" height="226" fill="#fff"/>
<text x="605" y="68" font-size="13.5" fill="#595959" text-anchor="middle">AU-US yield curve spread</text>
<g stroke="#d9d9d9" stroke-width="1">
<line x1="439" y1="83.7" x2="768.5" y2="83.7"/>
<line x1="439" y1="95.2" x2="768.5" y2="95.2"/>
<line x1="439" y1="106.7" x2="768.5" y2="106.7"/>
<line x1="439" y1="118.2" x2="768.5" y2="118.2"/>
<line x1="439" y1="129.7" x2="768.5" y2="129.7"/>
<line x1="439" y1="141.2" x2="768.5" y2="141.2"/>
<line x1="439" y1="152.7" x2="768.5" y2="152.7"/>
<line x1="439" y1="164.2" x2="768.5" y2="164.2"/>
<line x1="439" y1="175.7" x2="768.5" y2="175.7"/>
<line x1="439" y1="187.1" x2="768.5" y2="187.1"/>
<line x1="439" y1="198.6" x2="768.5" y2="198.6"/>
<line x1="439" y1="210.1" x2="768.5" y2="210.1"/>
</g>
<line x1="768.7" y1="83.8" x2="768.7" y2="210.6" stroke="#bfbfbf" stroke-width="1"/>
<text x="429.5" y="86.7" font-size="8.6" fill="#a6a6a6" text-anchor="end">0.60</text>
<text x="429.5" y="98.2" font-size="8.6" fill="#a6a6a6" text-anchor="end">0.40</text>
<text x="429.5" y="109.7" font-size="8.6" fill="#a6a6a6" text-anchor="end">0.20</text>
<text x="429.5" y="121.2" font-size="8.6" fill="#a6a6a6" text-anchor="end">0.00</text>
<text x="429.5" y="132.7" font-size="8.6" fill="#a6a6a6" text-anchor="end">-0.20</text>
<text x="429.5" y="144.2" font-size="8.6" fill="#a6a6a6" text-anchor="end">-0.40</text>
<text x="429.5" y="155.7" font-size="8.6" fill="#a6a6a6" text-anchor="end">-0.60</text>
<text x="429.5" y="167.2" font-size="8.6" fill="#a6a6a6" text-anchor="end">-0.80</text>
<text x="429.5" y="178.7" font-size="8.6" fill="#a6a6a6" text-anchor="end">-1.00</text>
<text x="429.5" y="190.1" font-size="8.6" fill="#a6a6a6" text-anchor="end">-1.20</text>
<text x="429.5" y="201.6" font-size="8.6" fill="#a6a6a6" text-anchor="end">-1.40</text>
<text x="429.5" y="213.1" font-size="8.6" fill="#a6a6a6" text-anchor="end">-1.60</text>
<text x="778" y="87.7" font-size="9.8" fill="#404040">6.00</text>
<text x="778" y="108.8" font-size="9.8" fill="#404040">5.00</text>
<text x="778" y="129.8" font-size="9.8" fill="#404040">4.00</text>
<text x="778" y="150.9" font-size="9.8" fill="#404040">3.00</text>
<text x="778" y="172.0" font-size="9.8" fill="#404040">2.00</text>
<text x="778" y="193.0" font-size="9.8" fill="#404040">1.00</text>
<text x="778" y="214.1" font-size="9.8" fill="#404040">0.00</text>
<rect x="449.2" y="118.2" width="9.6" height="79.7" fill="#bebebe"/>
<rect x="461.4" y="118.2" width="9.6" height="79.9" fill="#c9c9c9"/>
<rect x="474.2" y="118.2" width="9.6" height="59.5" fill="#d9d9d9"/>
<rect x="504.0" y="118.2" width="9.6" height="67.8" fill="#bebebe"/>
<rect x="516.2" y="118.2" width="9.6" height="64.9" fill="#c9c9c9"/>
<rect x="529.0" y="118.2" width="9.6" height="37.6" fill="#d9d9d9"/>
<rect x="558.9" y="118.2" width="9.6" height="32.7" fill="#bebebe"/>
<rect x="571.1" y="118.2" width="9.6" height="29.9" fill="#c9c9c9"/>
<rect x="583.9" y="118.2" width="9.6" height="10.3" fill="#d9d9d9"/>
<rect x="613.8" y="118.2" width="9.6" height="9.2" fill="#bebebe"/>
<rect x="626.0" y="118.2" width="9.6" height="5.2" fill="#c9c9c9"/>
<rect x="638.8" y="110.2" width="9.6" height="8.0" fill="#d9d9d9"/>
<rect x="668.6" y="118.2" width="9.6" height="5.2" fill="#bebebe"/>
<rect x="680.8" y="118.2" width="9.6" height="3.7" fill="#c9c9c9"/>
<rect x="693.6" y="107.3" width="9.6" height="10.9" fill="#d9d9d9"/>
<rect x="723.5" y="107.3" width="9.6" height="10.9" fill="#bebebe"/>
<rect x="735.7" y="107.3" width="9.6" height="10.9" fill="#c9c9c9"/>
<rect x="748.5" y="95.2" width="9.6" height="23.0" fill="#d9d9d9"/>
<polyline points="466.2,94.4 521.0,101.7 575.9,114.2 630.8,117.6 685.6,112.6 740.5,117.0" fill="none" stroke="#4472c4" stroke-width="2.3" stroke-linejoin="round"/>
<polyline points="466.2,123.5 521.0,126.9 575.9,125.5 630.8,120.5 685.6,114.6 740.5,112.6" fill="none" stroke="#000" stroke-width="2.6" stroke-linejoin="round"/>
<text x="466.2" y="227" font-size="9" fill="#595959" text-anchor="middle">1yr</text>
<text x="521.0" y="227" font-size="9" fill="#595959" text-anchor="middle">2yr</text>
<text x="575.9" y="227" font-size="9" fill="#595959" text-anchor="middle">5yr</text>
<text x="630.8" y="227" font-size="9" fill="#595959" text-anchor="middle">10yr</text>
<text x="685.6" y="227" font-size="9" fill="#595959" text-anchor="middle">20yr</text>
<text x="740.5" y="227" font-size="9" fill="#595959" text-anchor="middle">30yr</text>
<rect x="473.2" y="241.2" width="21.4" height="6" fill="#bebebe"/>
<rect x="572.7" y="241.2" width="20" height="6" fill="#c9c9c9"/>
<rect x="672.1" y="241.2" width="19.6" height="6" fill="#d9d9d9"/>
<text x="496.5" y="247.3" font-size="9" fill="#595959">AU-US current</text>
<text x="595.5" y="247.3" font-size="9" fill="#595959">AU-US T-20</text>
<text x="694.5" y="247.3" font-size="9" fill="#595959">AU-US T-60</text>
<line x1="473.2" y1="258.5" x2="495.3" y2="258.5" stroke="#4472c4" stroke-width="2"/>
<line x1="571" y1="258.5" x2="594.7" y2="258.5" stroke="#000" stroke-width="2.2"/>
<text x="497" y="261.8" font-size="9" fill="#595959">US yield</text>
<text x="596" y="261.8" font-size="9" fill="#595959">AU yield</text>
<clipPath id="c373280"><rect x="375" y="282" width="475" height="70"/></clipPath>
<g clip-path="url(#c373280)"><rect x="377" y="284" width="455" height="50" fill="#000" fill-opacity="0.5" filter="url(#blur)"/></g>
<rect x="373" y="280" width="455" height="50" fill="#fff"/>
<rect x="436.7" y="280" width="391.2" height="16.6" fill="#000"/>
<rect x="512.1" y="296.6" width="52.6" height="16.2" fill="#618fc8"/>
<text x="562.2" y="309.2" font-size="11" fill="#262626" text-anchor="end">6.26</text>
<rect x="564.4" y="296.6" width="52.7" height="16.2" fill="#739bcf"/>
<text x="614.6" y="309.2" font-size="11" fill="#262626" text-anchor="end">5.61</text>
<rect x="616.8" y="296.6" width="52.6" height="16.2" fill="#9cb8dd"/>
<text x="666.9" y="309.2" font-size="11" fill="#262626" text-anchor="end">4.15</text>
<rect x="669.1" y="296.6" width="52.9" height="16.2" fill="#c7d7ec"/>
<text x="719.5" y="309.2" font-size="11" fill="#262626" text-anchor="end">2.59</text>
<rect x="721.7" y="296.6" width="52.7" height="16.2" fill="#f4f7fc"/>
<text x="771.9" y="309.2" font-size="11" fill="#262626" text-anchor="end">0.96</text>
<rect x="774.1" y="296.6" width="54.1" height="16.2" fill="#fcfcff"/>
<text x="825.7" y="309.2" font-size="11" fill="#262626" text-anchor="end">0.69</text>
<rect x="512.1" y="312.8" width="52.6" height="17.2" fill="#81a5d4"/>
<text x="562.2" y="326.4" font-size="11" fill="#262626" text-anchor="end">5.1</text>
<rect x="564.4" y="312.8" width="52.7" height="17.2" fill="#5a8ac6"/>
<text x="614.6" y="326.4" font-size="11" fill="#262626" text-anchor="end">6.5</text>
<rect x="616.8" y="312.8" width="52.6" height="17.2" fill="#5d8cc7"/>
<text x="666.9" y="326.4" font-size="11" fill="#262626" text-anchor="end">6.4</text>
<rect x="669.1" y="312.8" width="52.9" height="17.2" fill="#6b96cc"/>
<text x="719.5" y="326.4" font-size="11" fill="#262626" text-anchor="end">5.9</text>
<rect x="721.7" y="312.8" width="52.7" height="17.2" fill="#89abd7"/>
<text x="771.9" y="326.4" font-size="11" fill="#262626" text-anchor="end">4.8</text>
<rect x="774.1" y="312.8" width="54.1" height="17.2" fill="#84a7d5"/>
<text x="825.7" y="326.4" font-size="11" fill="#262626" text-anchor="end">5</text>
<text x="439.3" y="293" font-size="11" fill="#fff">1-day change</text>
<text x="538.2" y="293" font-size="11" fill="#fff" text-anchor="middle">1yr</text>
<text x="590.6" y="293" font-size="11" fill="#fff" text-anchor="middle">2yr</text>
<text x="643.0" y="293" font-size="11" fill="#fff" text-anchor="middle">5yr</text>
<text x="695.4" y="293" font-size="11" fill="#fff" text-anchor="middle">10yr</text>
<text x="747.9" y="293" font-size="11" fill="#fff" text-anchor="middle">20yr</text>
<text x="801.0" y="293" font-size="11" fill="#fff" text-anchor="middle">30yr</text>
<text x="510.5" y="309.2" font-size="11" fill="#262626" text-anchor="end">US</text>
<text x="510.5" y="326" font-size="11" fill="#262626" text-anchor="end">AU</text>
<text x="376" y="309.4" font-size="8.2" font-style="italic" fill="#262626" textLength="53.7" lengthAdjust="spacingAndGlyphs">Wed 20 Sep 23</text>
<text x="376" y="325.6" font-size="8.2" font-style="italic" fill="#262626" textLength="53.7" lengthAdjust="spacingAndGlyphs">Wed 20 Sep 23</text>
<g shape-rendering="crispEdges">
<line x1="1117" y1="491.5" x2="1340" y2="491.5" stroke="#1a3a9c" stroke-width="1" stroke-dasharray="1 2"/>
<line x1="1168" y1="505.5" x2="1340" y2="505.5" stroke="#1a3a9c" stroke-width="1" stroke-dasharray="5 5"/>
<line x1="1140" y1="594.5" x2="1294" y2="594.5" stroke="#1a3a9c" stroke-width="1" stroke-dasharray="1 2"/>
<line x1="1336" y1="594.5" x2="1340" y2="594.5" stroke="#1a3a9c" stroke-width="1" stroke-dasharray="1 2"/>
</g>
<text x="1299.8" y="598" font-size="10.5" fill="#1a3a9c" textLength="34" lengthAdjust="spacingAndGlyphs">Sep low</text>
<text x="1298.6" y="652" font-size="10.5" fill="#9598a1" textLength="35" lengthAdjust="spacingAndGlyphs">Nov low</text>
<text x="1294.6" y="716" font-size="10.5" fill="#9598a1" textLength="39" lengthAdjust="spacingAndGlyphs">2022 low</text>
<text x="1294" y="88" font-size="10.5" fill="#9598a1" textLength="40.5" lengthAdjust="spacingAndGlyphs">YTD high</text>
<ellipse cx="1206.3" cy="519.9" rx="8" ry="35.3" fill="none" stroke="#000" stroke-width="2" filter="url(#sh2)"/>
<g filter="url(#sh2)"><path d="M1222,529.5 L1236.7,593.6 L1268.6,535.6" fill="none" stroke="#000" stroke-width="3" stroke-dasharray="6 3"/><polygon points="1272.6,528.5 1271.8,538.3 1264.8,534.5" fill="#000"/></g>
<text x="1060.2" y="358.5" font-size="15" fill="#1a1a1a" textLength="232.6" lengthAdjust="spacingAndGlyphs">AU-US yield differentials remain a</text>
<text x="1060.2" y="376" font-size="15" fill="#1a1a1a" textLength="233" lengthAdjust="spacingAndGlyphs">headwind for AUD/USD, yet it has</text>
<text x="1060.2" y="393.6" font-size="15" fill="#1a1a1a" textLength="234.8" lengthAdjust="spacingAndGlyphs">remained resilient above the ~64c</text>
<text x="1071.8" y="411.7" font-size="15" fill="#1a1a1a" textLength="210.8" lengthAdjust="spacingAndGlyphs">area in recent weeks despite a</text>
<text x="1061.5" y="429.7" font-size="15" fill="#1a1a1a" textLength="231.1" lengthAdjust="spacingAndGlyphs">dovish RBA and weak China data</text>
<rect x="1340" y="58" width="1" height="714" fill="#000"/>
<rect x="10" y="745" width="1386" height="1" fill="#000"/>
<text x="1347" y="69.7" font-size="10.6" fill="#50535e">0.72000</text>
<text x="1347" y="132.5" font-size="10.6" fill="#50535e">0.71000</text>
<text x="1347" y="163.9" font-size="10.6" fill="#50535e">0.70500</text>
<text x="1347" y="195.2" font-size="10.6" fill="#50535e">0.70000</text>
<text x="1347" y="226.6" font-size="10.6" fill="#50535e">0.69500</text>
<text x="1347" y="258.0" font-size="10.6" fill="#50535e">0.69000</text>
<text x="1347" y="289.4" font-size="10.6" fill="#50535e">0.68500</text>
<text x="1347" y="320.8" font-size="10.6" fill="#50535e">0.68000</text>
<text x="1347" y="352.2" font-size="10.6" fill="#50535e">0.67500</text>
<text x="1347" y="383.5" font-size="10.6" fill="#50535e">0.67000</text>
<text x="1347" y="414.9" font-size="10.6" fill="#50535e">0.66500</text>
<text x="1347" y="446.3" font-size="10.6" fill="#50535e">0.66000</text>
<text x="1347" y="477.7" font-size="10.6" fill="#50535e">0.65500</text>
<text x="1347" y="571.9" font-size="10.6" fill="#50535e">0.64000</text>
<text x="1347" y="634.6" font-size="10.6" fill="#50535e">0.63000</text>
<text x="1347" y="666.0" font-size="10.6" fill="#50535e">0.62500</text>
<text x="1347" y="697.4" font-size="10.6" fill="#50535e">0.62000</text>
<text x="1347" y="728.8" font-size="10.6" fill="#50535e">0.61500</text>
<path d="M1340,84 H1388 Q1391,84 1391,87 V98 Q1391,101 1388,101 H1340 Z" fill="#9598a1"/>
<text x="1347.5" y="96.9" font-size="10.8" fill="#131722" stroke="#131722" stroke-width="0.3" textLength="38.5" lengthAdjust="spacingAndGlyphs">0.71577</text>
<path d="M1340,482 H1388 Q1391,482 1391,485 V511 Q1391,514 1388,514 H1340 Z" fill="#0c31a0"/>
<text x="1347.5" y="495.4" font-size="10.8" fill="#fff" stroke="#fff" stroke-width="0.45" textLength="38.5" lengthAdjust="spacingAndGlyphs">0.65222</text>
<text x="1347.5" y="510.4" font-size="10.8" fill="#fff" stroke="#fff" stroke-width="0.45" textLength="38.5" lengthAdjust="spacingAndGlyphs">0.65000</text>
<path d="M1340,533 H1388 Q1391,533 1391,536 V546.5 Q1391,549.5 1388,549.5 H1340 Z" fill="#9598a1"/>
<text x="1347.5" y="545.8" font-size="10.8" fill="#131722" stroke="#131722" stroke-width="0.3" textLength="38.5" lengthAdjust="spacingAndGlyphs">0.64424</text>
<path d="M1340,568 H1388 Q1391,568 1391,571 V582 Q1391,585 1388,585 H1340 Z" fill="#0c31a0"/>
<text x="1347.5" y="580.9" font-size="10.8" fill="#fff" stroke="#fff" stroke-width="0.45" textLength="38.5" lengthAdjust="spacingAndGlyphs">0.63865</text>
<path d="M1340,586 H1388 Q1391,586 1391,589 V600 Q1391,603 1388,603 H1340 Z" fill="#0c31a0"/>
<text x="1347.5" y="598.9" font-size="10.8" fill="#fff" stroke="#fff" stroke-width="0.45" textLength="38.5" lengthAdjust="spacingAndGlyphs">0.63578</text>
<path d="M1340,617.5 H1388 Q1391,617.5 1391,620.5 V631 Q1391,634 1388,634 H1340 Z" fill="#0c31a0"/>
<text x="1347.5" y="630.0" font-size="10.8" fill="#fff" stroke="#fff" stroke-width="0.45" textLength="38.5" lengthAdjust="spacingAndGlyphs">0.63083</text>
<path d="M1340,640 H1388 Q1391,640 1391,643 V653 Q1391,656 1388,656 H1340 Z" fill="#9598a1"/>
<text x="1347.5" y="652.6" font-size="10.8" fill="#131722" stroke="#131722" stroke-width="0.3" textLength="38.5" lengthAdjust="spacingAndGlyphs">0.62724</text>
<path d="M1340,704 H1388 Q1391,704 1391,707 V718 Q1391,721 1388,721 H1340 Z" fill="#9598a1"/>
<text x="1347.5" y="716.9" font-size="10.8" fill="#131722" stroke="#131722" stroke-width="0.3" textLength="38.5" lengthAdjust="spacingAndGlyphs">0.61703</text>
<text x="120.5" y="762" font-size="11" fill="#50535e" text-anchor="middle">2023</text>
<text x="247.5" y="762" font-size="11" fill="#50535e" text-anchor="middle">Feb</text>
<text x="363.4" y="762" font-size="11" fill="#50535e" text-anchor="middle">Mar</text>
<text x="496.8" y="762" font-size="11" fill="#50535e" text-anchor="middle">Apr</text>
<text x="612" y="762" font-size="11" fill="#50535e" text-anchor="middle">May</text>
<text x="746.2" y="762" font-size="11" fill="#50535e" text-anchor="middle">Jun</text>
<text x="873.8" y="762" font-size="11" fill="#50535e" text-anchor="middle">Jul</text>
<text x="995.8" y="762" font-size="11" fill="#50535e" text-anchor="middle">Aug</text>
<text x="1128.4" y="762" font-size="11" fill="#50535e" text-anchor="middle">Sep</text>
<text x="1250.5" y="762" font-size="11" fill="#50535e" text-anchor="middle">Oct</text>
<circle cx="1204.5" cy="732.5" r="9.6" fill="#fff" stroke="#9c27b0" stroke-width="1.3"/>
<path d="M1208,727 L1200.4,733.2 L1204.6,733.2 L1201.2,737.9 L1208.6,731.8 L1204.4,731.8 Z" fill="#9c27b0"/>
<rect x="1344.5" y="31" width="47" height="23" rx="4" fill="#fff" stroke="#e0e3eb" stroke-width="1"/>
<text x="1353.5" y="46.6" font-size="11" fill="#131722" textLength="18.6" lengthAdjust="spacingAndGlyphs">USD</text>
<g fill="#131722"><path d="M10.1,785.1 H17.8 V794.7 H13.9 V788.7 H10.1 Z"/><circle cx="21" cy="787.2" r="2"/><path d="M25.3,785.1 H29.8 L25.8,794.7 H21.2 Z"/></g>
<text x="33.3" y="795" font-size="13" fill="#2a2e39">TradingView</text>
</svg></body></html>
